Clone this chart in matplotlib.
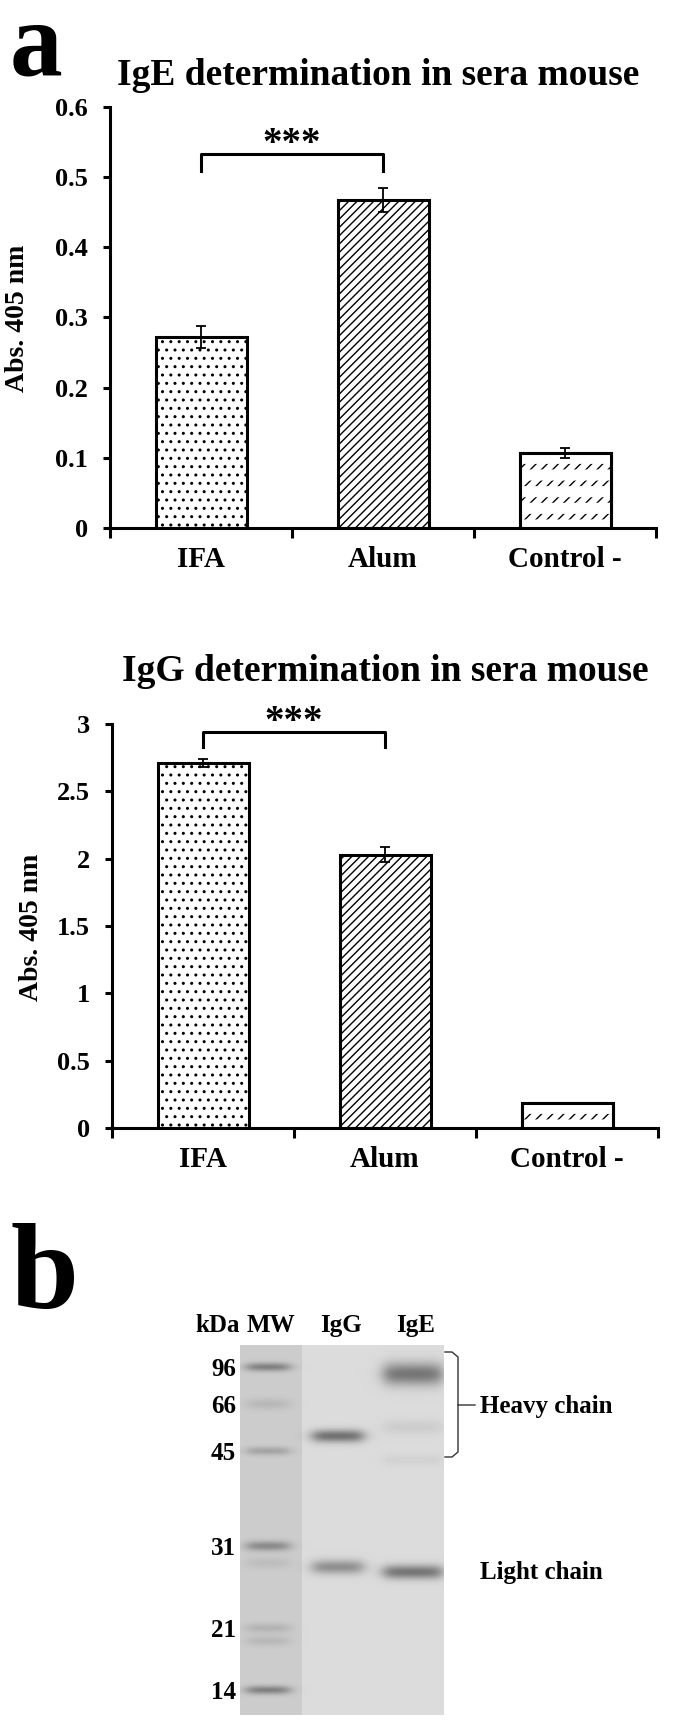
import numpy as np
import matplotlib
matplotlib.use("Agg")
import matplotlib.pyplot as plt

plt.rcParams["font.family"] = ["Liberation Serif", "DejaVu Serif"]
plt.rcParams["font.weight"] = "bold"
plt.rcParams["hatch.linewidth"] = 1.0

# ---- panel a data ----
groups = ["IFA", "Alum", "Control -"]
ige_mean = [0.272, 0.467, 0.107]
ige_err = [0.016, 0.017, 0.007]
igg_mean = [2.71, 2.03, 0.185]
igg_err = [0.033, 0.058, 0.0]
ige_yticks = [0, 0.1, 0.2, 0.3, 0.4, 0.5, 0.6]
ige_yticklabels = ["0", "0.1", "0.2", "0.3", "0.4", "0.5", "0.6"]
igg_yticks = [0, 0.5, 1, 1.5, 2, 2.5, 3]
igg_yticklabels = ["0", "0.5", "1", "1.5", "2", "2.5", "3"]
hatches = ["..", "////", "///"]
sig_label = "***"

# ---- panel b data (gel, positions in px from gel top) ----
lane_names = ["MW", "IgG", "IgE"]
lane_center = [28, 98, 173]
lane_halfwidth = [21, 25, 29]
mw_kda = ["96", "66", "45", "31", "21", "14"]
mw_pos = [22, 59, 106, 201, 283, 345]
band_lane = [0, 0, 0, 0, 0, 0, 0, 0, 1, 1, 2, 2, 2, 2]
band_pos = [22, 59, 106, 201, 218, 283, 296, 345, 91, 222, 29, 82, 115, 227]
band_sigma = [3, 4, 3, 3.5, 4, 3.5, 3.5, 3, 4.5, 5, 8, 5, 4, 5]
band_depth = [0.30, 0.08, 0.16, 0.26, 0.06, 0.10, 0.08, 0.30, 0.42, 0.30, 0.40, 0.06, 0.04, 0.40]

W, H = 675, 1722


def fx(px):
    return px / W


def fy(py):
    return 1 - py / H


def bar_panel(ax, means, errs, yticks, yticklabels, ymax, br_low, br_high):
    x = np.arange(len(groups)) + 0.5
    bars = ax.bar(x, means, width=0.5, color="white", edgecolor="black",
                  linewidth=2.2, zorder=2)
    for b, h in zip(bars, hatches):
        b.set_hatch(h)
    # white gaps that break the control hatch into dashed rows
    gap = ax.bar(x[2], means[2], width=0.5, color="none", edgecolor="white",
                 linewidth=0, hatch="-", zorder=3)
    if hasattr(gap[0], "set_hatch_linewidth"):
        gap[0].set_hatch_linewidth(8)
    ax.bar(x[2], means[2], width=0.5, fill=False, edgecolor="black",
           linewidth=2.2, zorder=4)
    ax.errorbar(x, means, yerr=errs, fmt="none", ecolor="black",
                elinewidth=1.3, capsize=3.5, capthick=1.3, zorder=5)

    ax.plot([x[0], x[0], x[1], x[1]], [br_low, br_high, br_high, br_low],
            color="black", lw=2.2, clip_on=False)
    ax.text((x[0] + x[1]) / 2, br_high, sig_label, ha="center", va="baseline",
            fontsize=28)

    ax.set_xlim(0, 3)
    ax.set_ylim(0, ymax)
    ax.spines[["top", "right"]].set_visible(False)
    for s in ["left", "bottom"]:
        ax.spines[s].set_linewidth(2.2)
    ax.set_xticks([0, 1, 2, 3])
    ax.set_xticklabels([])
    ax.tick_params(axis="x", which="major", direction="out", length=7, width=2.2)
    ax.set_xticks(x, minor=True)
    ax.set_xticklabels(groups, minor=True, fontsize=21)
    ax.tick_params(axis="x", which="minor", length=0, pad=13)
    ax.set_yticks(yticks, yticklabels)
    ax.tick_params(axis="y", length=5, width=2.2, pad=11, labelsize=19)


fig = plt.figure(figsize=(W / 100, H / 100), dpi=100)

ax1 = fig.add_axes([fx(110), fy(528), (656 - 110) / W, (528 - 107) / H])
bar_panel(ax1, ige_mean, ige_err, ige_yticks, ige_yticklabels, 0.6, 0.509, 0.533)
fig.text(fx(378), fy(85), "IgE determination in sera mouse", ha="center",
         va="baseline", fontsize=27)
fig.text(fx(18), fy(318), "Abs. 405 nm", rotation=90, ha="center", va="center",
         fontsize=20)

ax2 = fig.add_axes([fx(112), fy(1128), (658 - 112) / W, (1128 - 724) / H])
bar_panel(ax2, igg_mean, igg_err, igg_yticks, igg_yticklabels, 3, 2.83, 2.94)
fig.text(fx(385), fy(681), "IgG determination in sera mouse", ha="center",
         va="baseline", fontsize=27)
fig.text(fx(32), fy(927), "Abs. 405 nm", rotation=90, ha="center", va="center",
         fontsize=20)

fig.text(fx(10), fy(74), "a", ha="left", va="baseline", fontsize=76)
fig.text(fx(10), fy(1308), "b", ha="left", va="baseline", fontsize=88)

# ---- gel ----
gw, gh = 204, 370
gax = fig.add_axes([fx(240), fy(1715), gw / W, gh / H])
yy, xx = np.mgrid[0:gh, 0:gw] + 0.5
img = np.where(xx < 62, 0.80, 0.86)
for ln, pos, sg, dp in zip(band_lane, band_pos, band_sigma, band_depth):
    cx, hw = lane_center[ln], lane_halfwidth[ln]
    img = img - dp * np.exp(-0.5 * ((yy - pos) / sg) ** 2) / (
        1 + np.exp((np.abs(xx - cx) - hw) / 4.0))
gax.imshow(img, extent=(0, gw, gh, 0), cmap="gray", vmin=0, vmax=1,
           aspect="auto", interpolation="bilinear")
gax.set_xlim(0, gw)
gax.set_ylim(gh, 0)
for s in gax.spines.values():
    s.set_visible(False)
gax.set_xticks([])
gax.set_yticks(mw_pos, mw_kda)
gax.tick_params(axis="y", length=0, pad=3, labelsize=18)

gax.text(-22, -13, "kDa", ha="center", va="baseline", fontsize=18)
for name, cx in zip(lane_names, lane_center):
    gax.text(cx + 3, -13, name, ha="center", va="baseline", fontsize=18)

gax.plot([205, 212, 218, 218, 235], [7, 7, 12, 60, 60], color="#333333",
         lw=1.0, clip_on=False)
gax.plot([218, 218, 212, 205], [60, 107, 112, 112], color="#333333",
         lw=1.0, clip_on=False)
gax.text(240, 62, "Heavy chain", ha="left", va="center", fontsize=18)
gax.text(240, 228, "Light chain", ha="left", va="center", fontsize=18)

fig.savefig("out.png", dpi=100)
